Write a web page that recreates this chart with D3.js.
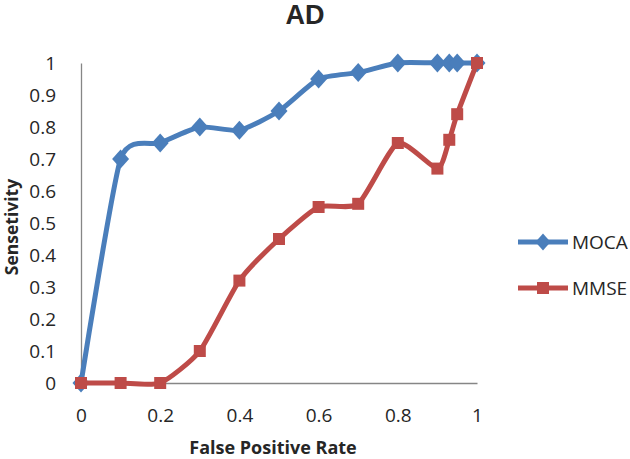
<!DOCTYPE html>
<html>
<head>
<meta charset="utf-8">
<script src="https://cdn.jsdelivr.net/npm/d3@7"></script>
<style>
  body { margin: 0; background: #fff; }
  text { font-family: "Open Sans", sans-serif; fill: #262626; }
</style>
</head>
<body>
<script>
var fpr = [0, 0.1, 0.2, 0.3, 0.4, 0.5, 0.6, 0.7, 0.8, 0.9, 0.93, 0.95, 1];
var moca = [0, 0.7, 0.75, 0.8, 0.79, 0.85, 0.95, 0.97, 1, 1, 1, 1, 1];
var mmse = [0, 0, 0, 0.1, 0.32, 0.45, 0.55, 0.56, 0.75, 0.67, 0.76, 0.84, 1];
var xTicks = [0, 0.2, 0.4, 0.6, 0.8, 1];
var yTicks = [0, 0.1, 0.2, 0.3, 0.4, 0.5, 0.6, 0.7, 0.8, 0.9, 1];
var seriesNames = ["MOCA", "MMSE"];

var svg = d3.select("body").append("svg")
            .attr("width", 630)
            .attr("height", 459);

var x = d3.scaleLinear().domain([0, 1]).range([81, 477]);
var y = d3.scaleLinear().domain([0, 1]).range([383, 63]);

// axes, no tick marks
var xAxis = svg.append("g")
               .attr("transform", "translate(0,383)")
               .call(d3.axisBottom(x).tickValues(xTicks).tickSize(0).tickPadding(26)
                     .tickFormat(d3.format("")));
var yAxis = svg.append("g")
               .attr("transform", "translate(81,0)")
               .call(d3.axisLeft(y).tickValues(yTicks).tickSize(0).tickPadding(25)
                     .tickFormat(d3.format("")));
[xAxis, yAxis].forEach(function(a) {
  a.select(".domain").attr("stroke", "#868686").attr("stroke-width", 1.3);
  a.selectAll("text").style("font-size", "19px").style("font-family", "Open Sans, sans-serif")
   .attr("fill", "#262626");
});

// excel-like smoothing
var line = d3.line().curve(d3.curveCardinal.tension(0.4))
             .x(function(d) { return x(d[0]); })
             .y(function(d) { return y(d[1]); });

var diamond = function(g, cx, cy, w, h, col) {
  g.append("path")
   .attr("d", "M" + cx + "," + (cy - h / 2) + "L" + (cx + w / 2) + "," + cy +
              "L" + cx + "," + (cy + h / 2) + "L" + (cx - w / 2) + "," + cy + "Z")
   .attr("fill", col);
};
var square = function(g, cx, cy, s, col) {
  g.append("rect").attr("x", cx - s / 2).attr("y", cy - s / 2)
   .attr("width", s).attr("height", s).attr("fill", col);
};

var blue = "#4A7EBB", red = "#BE4B48";

var mocaPts = fpr.map(function(f, i) { return [f, moca[i]]; });
var mmsePts = fpr.map(function(f, i) { return [f, mmse[i]]; });

svg.append("path").datum(mocaPts).attr("d", line)
   .attr("fill", "none").attr("stroke", blue).attr("stroke-width", 5);
var gm = svg.append("g");
mocaPts.forEach(function(p) { diamond(gm, x(p[0]), y(p[1]), 17, 19, blue); });

svg.append("path").datum(mmsePts).attr("d", line)
   .attr("fill", "none").attr("stroke", red).attr("stroke-width", 5);
var gs = svg.append("g");
mmsePts.forEach(function(p) { square(gs, x(p[0]), y(p[1]), 12, red); });

// legend
var leg = svg.append("g");
[[seriesNames[0], blue, 242], [seriesNames[1], red, 288]].forEach(function(s, i) {
  leg.append("line").attr("x1", 518).attr("x2", 568).attr("y1", s[2]).attr("y2", s[2])
     .attr("stroke", s[1]).attr("stroke-width", 5);
  if (i === 0) diamond(leg, 543, s[2], 15, 17, s[1]);
  else square(leg, 543, s[2], 12, s[1]);
  leg.append("text").attr("x", 572).attr("y", s[2] + 7).style("font-size", "19px").text(s[0]);
});

// titles
svg.append("text").attr("x", 305).attr("y", 24).attr("text-anchor", "middle")
   .style("font-family", "Liberation Sans, Arial, sans-serif")
   .style("font-size", "27px").style("font-weight", "bold").text("AD");
svg.append("text").attr("x", 273).attr("y", 454).attr("text-anchor", "middle")
   .style("font-size", "18px").style("font-weight", "bold").text("False Positive Rate");
svg.append("text").attr("transform", "translate(18,227) rotate(-90)").attr("text-anchor", "middle")
   .style("font-size", "17.5px").style("font-weight", "bold").text("Sensetivity");
</script>
</body>
</html>
